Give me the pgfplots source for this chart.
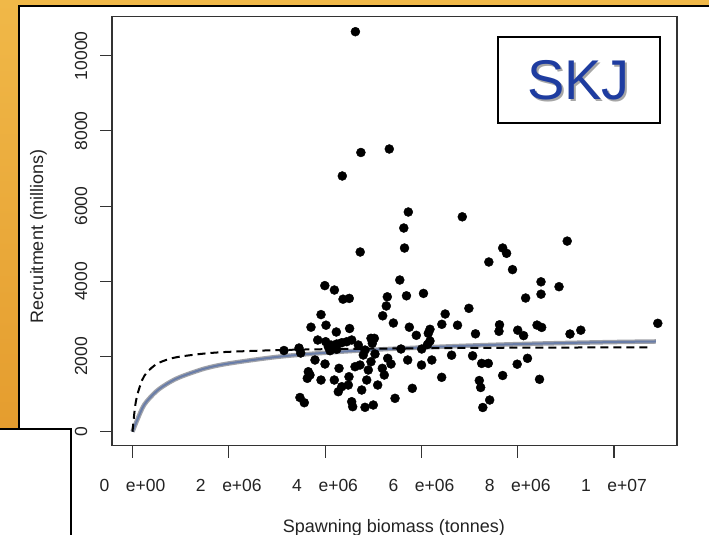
\documentclass[border=0pt]{standalone}
\usepackage{pgfplots}
\pgfplotsset{compat=1.18}
\usepackage{fontspec}
\setmainfont{Liberation Sans}
\definecolor{bgtop}{RGB}{240,184,72}
\definecolor{bgbot}{RGB}{226,150,40}
\definecolor{skjblue}{RGB}{30,60,160}
\definecolor{fitblue}{RGB}{105,125,168}
\definecolor{fitgray}{RGB}{160,162,168}
\definecolor{txt}{RGB}{35,35,35}
\begin{document}
\begin{tikzpicture}[x=1pt,y=1pt]
\useasboundingbox (0,0) rectangle (709,535);
\clip (0,0) rectangle (709,535);
\shade[top color=bgtop, bottom color=bgbot] (0,0) rectangle (709,535);
\fill[white] (18.5,0) rectangle (709,528.5);
\draw[black, line width=2pt] (18.5,0) -- (18.5,528.5) -- (712,528.5);
\fill[white] (0,0) rectangle (71,106);
\draw[black, line width=1.6pt] (-2,106) -- (71,106) -- (71,-2);
\begin{axis}[
  at={(112pt,89.3pt)}, anchor=south west, scale only axis,
  width=565pt, height=429.3pt,
  xmin=-425744, xmax=11308176, ymin=-372, ymax=11047,
  axis line style={black!80, line width=1.1pt},
  tick style={black!80, line width=1.1pt},
  tick align=outside, major tick length=12pt,
  xtick pos=left, ytick pos=left,
  scaled x ticks=false, scaled y ticks=false,
  xtick={0,2000000,4000000,6000000,8000000,10000000},
  xticklabels={0\hspace{0.95em}e+00,2\hspace{0.95em}e+06,4\hspace{0.95em}e+06,6\hspace{0.95em}e+06,8\hspace{0.95em}e+06,1\hspace{0.95em}e+07},
  ytick={0,2000,4000,6000,8000,10000},
  yticklabels={0,2000,4000,6000,8000,10000},
  tick label style={font=\fontsize{17.5}{20}\selectfont, text=txt},
  xticklabel style={anchor=base, yshift=-34pt},
  yticklabel style={xshift=-13pt, rotate=90, anchor=base},
  xlabel={Spawning biomass (tonnes)},
  ylabel={Recruitment (millions)},
  every axis x label/.style={at={(rel axis cs:0.4988,-0.2020)}, anchor=base, font=\fontsize{18}{20}\selectfont, text=txt},
  every axis y label/.style={at={(rel axis cs:-0.1221,0.4885)}, rotate=90, anchor=base, font=\fontsize{18}{20}\selectfont, text=txt},
  clip=false,
]
\addplot[only marks, mark=*, mark size=4.5pt, mark options={fill=black, draw=black}] coordinates {
(4.629e6,10640) (4.743e6,7427) (4.357e6,6802) (5.333e6,7520) (5.728e6,5844)
(5.634e6,5418) (5.649e6,4886) (4.729e6,4780) (6.849e6,5716) (9.028e6,5070)
(7.688e6,4886) (7.769e6,4745) (7.400e6,4514) (7.892e6,4312) (5.551e6,4035)
(8.484e6,3987) (8.484e6,3658) (8.858e6,3857) (8.164e6,3556) (6.043e6,3679)
(3.994e6,3886) (4.193e6,3769) (4.372e6,3525) (4.502e6,3546) (5.292e6,3588)
(5.271e6,3344) (5.690e6,3615) (6.986e6,3282) (6.494e6,3131) (5.196e6,3083)
(5.418e6,2891) (3.915e6,3115) (3.707e6,2780) (4.019e6,2833) (4.233e6,2652)
(4.509e6,2745) (5.749e6,2780) (5.894e6,2564) (6.424e6,2857) (6.750e6,2833)
(7.123e6,2604) (7.622e6,2844) (7.611e6,2671) (8.000e6,2700) (8.122e6,2556)
(8.401e6,2836) (8.498e6,2774) (9.086e6,2599) (9.310e6,2700) (10.909e6,2883)
(6.178e6,2724) (6.143e6,2617) (3.146e6,2160) (3.458e6,2226) (3.493e6,2093)
(3.846e6,2439) (4.012e6,2394) (4.122e6,2306) (4.241e6,2333) (4.345e6,2367)
(4.449e6,2394) (4.552e6,2439) (4.689e6,2306) (4.829e6,2173) (4.953e6,2484)
(5.022e6,2484) (4.980e6,2351) (4.102e6,2155) (4.241e6,2192) (4.066e6,2261)
(4.793e6,2040) (5.036e6,2067) (5.576e6,2200) (6.006e6,2200) (6.127e6,2320)
(6.178e6,2413) (3.790e6,1907) (3.998e6,1801) (4.289e6,1686) (4.621e6,1729)
(4.725e6,1774) (4.953e6,1862) (5.300e6,1952) (5.369e6,1801) (5.715e6,1907)
(6.002e6,1774) (6.216e6,1907) (6.627e6,2035) (7.063e6,2019) (7.252e6,1817)
(7.389e6,1817) (8.203e6,1952) (7.989e6,1796) (3.651e6,1596) (3.686e6,1508)
(3.630e6,1420) (3.915e6,1375) (4.191e6,1375) (4.496e6,1463) (4.897e6,1641)
(5.188e6,1686) (5.229e6,1508) (4.864e6,1375) (4.482e6,1242) (4.345e6,1197)
(5.092e6,1242) (4.274e6,1064) (4.760e6,1109) (5.811e6,1154) (6.421e6,1447)
(7.688e6,1495) (8.453e6,1394) (7.202e6,1362) (7.231e6,1176) (7.418e6,843)
(7.275e6,644) (3.477e6,910) (3.568e6,771) (4.552e6,798) (4.573e6,665)
(4.829e6,649) (5.001e6,710) (5.452e6,888)
};
\addplot[fitgray, line width=4.5pt, smooth, no markers] coordinates {
(0,0) (0.1e6,320) (0.25e6,730) (0.5e6,1080) (0.75e6,1300) (1e6,1460)
(1.5e6,1680) (2e6,1815) (3e6,1990) (4e6,2100) (5e6,2180) (6e6,2240)
(7e6,2290) (8e6,2330) (9e6,2360) (10e6,2385) (10.87e6,2400)
};
\addplot[fitblue, line width=2pt, smooth, no markers] coordinates {
(0,0) (0.1e6,320) (0.25e6,730) (0.5e6,1080) (0.75e6,1300) (1e6,1460)
(1.5e6,1680) (2e6,1815) (3e6,1990) (4e6,2100) (5e6,2180) (6e6,2240)
(7e6,2290) (8e6,2330) (9e6,2360) (10e6,2385) (10.87e6,2400)
};
\addplot[black, line width=2pt, dash pattern=on 8pt off 5pt, smooth, no markers] coordinates {
(0,0) (0.05e6,630) (0.1e6,980) (0.2e6,1370) (0.3e6,1580) (0.5e6,1800)
(0.75e6,1930) (1e6,2000) (1.5e6,2080) (2e6,2125) (3e6,2170) (4e6,2195)
(6e6,2220) (8e6,2235) (10.77e6,2245)
};
\end{axis}
\draw[black, line width=2pt, fill=white] (498.3,411.7) rectangle (660,497.7);
\node[text=black!35, font=\fontsize{56}{60}\selectfont, inner sep=0pt] at (580.5,453) {SKJ};
\node[text=skjblue, font=\fontsize{56}{60}\selectfont, inner sep=0pt] at (578.5,455) {SKJ};
\end{tikzpicture}
\end{document}
